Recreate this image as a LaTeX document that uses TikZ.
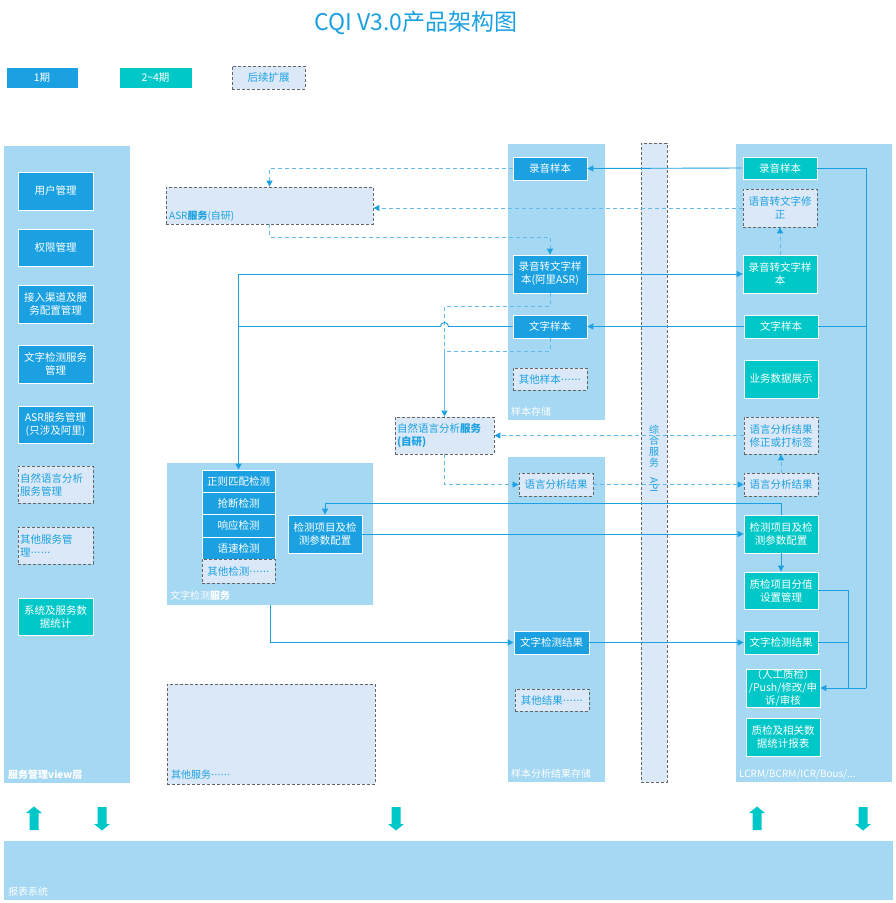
\documentclass[tikz,border=0pt]{standalone}
\usepackage{fontspec}
\usepackage{graphicx}
\setmainfont{Noto Sans CJK SC}
\newfontfamily\dotfont{DejaVu Sans}
\usetikzlibrary{arrows.meta}
\definecolor{cA}{HTML}{1BA1E2}
\definecolor{cB}{HTML}{00C8C8}
\definecolor{cX}{HTML}{DAE8F7}
\definecolor{cL}{HTML}{A5D8F3}
\definecolor{cD}{HTML}{62BBEA}
\definecolor{cG}{HTML}{666666}
\newcommand\Bx[8]{\pgfmathsetmacro\bxw{#5-#3-4}\pgfmathsetmacro\bxh{#6-#4}%
 \node[#2, text width=\bxw pt, align=#7, minimum height=\bxh pt] (#1) at ({(#3+#5)/2},{(#4+#6)/2}) {#8};}
\newcommand\UpAr[1]{\fill[cB] (#1-4.5,830) -- (#1-4.5,813) -- (#1-8,813) -- (#1,806.5) -- (#1+8,813) -- (#1+4.5,813) -- (#1+4.5,830) -- cycle;}
\newcommand\DnAr[1]{\fill[cB] (#1-4.5,807) -- (#1-4.5,824) -- (#1-8,824) -- (#1,830.5) -- (#1+8,824) -- (#1+4.5,824) -- (#1+4.5,807) -- cycle;}
\newcommand\dotsix{{\dotfont ······}}
\tikzset{
  fs/.style={font=\fontsize{10.5}{13}\selectfont},
  base/.style={fs, inner xsep=2pt, inner ysep=0pt},
  p1/.style={base, fill=cA, draw=white, line width=0.8pt, text=white},
  p2/.style={base, fill=cB, draw=white, line width=0.8pt, text=white},
  px/.style={base, fill=cX, draw=cG, line width=0.8pt, dash pattern=on 3pt off 2pt, text=cA},
  cont/.style={base, fill=cL, draw=none},
  lab/.style={text=white, font=\fontsize{10}{12}\selectfont, anchor=base west, inner sep=0pt},
  blab/.style={lab, text=cA},
  line/.style={draw=cA, line width=0.9pt},
  conn/.style={line, -{Triangle[length=6pt,width=6pt]}},
  dline/.style={draw=cD, line width=0.9pt, dash pattern=on 4pt off 3pt},
  dconn/.style={dline, -{Triangle[length=6pt,width=6pt,color=cA]}},
}
\begin{document}
\begin{tikzpicture}[x=1pt,y=-1pt]
\useasboundingbox[fill=white] (0,0) rectangle (895,903);
% title
\node[font=\fontsize{23}{27}\selectfont, text=cA] (title) at (416,23) {CQI V3.0产品架构图};
% legend
\Bx{lg1}{p1}{6}{67}{78}{88}{center}{1期}
\Bx{lg2}{p2}{119}{67}{192}{88}{center}{2\textasciitilde4期}
\Bx{lg3}{px}{232}{66}{305}{89}{center}{后续扩展}
% containers
\Bx{left}{cont}{4}{146}{130}{783}{center}{}
\node[lab, font=\bfseries\fontsize{10}{12}\selectfont] (leftL) at (8,778) {服务管理view层};
\Bx{sst}{cont}{508}{144}{605}{420}{center}{}
\node[lab] (sstL) at (511,415) {样本存储};
\Bx{srs}{cont}{508}{457}{605}{782}{center}{}
\node[lab] (srsL) at (511,777) {样本分析结果存储};
\Bx{rc}{cont}{736}{144}{892}{782}{center}{}
\node[lab] (rcL) at (739,777) {LCRM/BCRM/ICR/Bous/...};
\Bx{tsvc}{cont}{167}{463}{373}{605}{center}{}
\node[lab] (tsvcL) at (170,599) {文字检测\textbf{服务}};
\Bx{rep}{cont}{4}{841}{893}{900}{center}{}
\node[lab] (repL) at (8,895) {报表系统};
\Bx{api}{px}{641}{143}{667}{782}{center}{}
\node[text=cA, font=\fontsize{10}{11}\selectfont, align=center, inner sep=0pt] (apiT) at (654,459) {综\\合\\服\\务\\\rotatebox{-90}{API}};
\Bx{asr}{px}{166}{187}{373}{224}{left}{}
\node[blab] (asrL) at (169,219) {ASR\textbf{服务}(自研)};
\Bx{oth}{px}{167}{684}{375}{784}{center}{}
\node[blab] (othL) at (171,778) {其他服务\dotsix};
% left boxes
\Bx{m1}{p1}{18}{172}{93}{210}{center}{用户管理}
\Bx{m2}{p1}{18}{229}{93}{266}{center}{权限管理}
\Bx{m3}{p1}{18}{285}{93}{323}{center}{接入渠道及服\\务配置管理}
\Bx{m4}{p1}{18}{345}{93}{383}{center}{文字检测服务\\管理}
\Bx{m5}{p1}{18}{406}{93}{443}{center}{ASR服务管理\\(只涉及阿里)}
\Bx{m6}{px}{18}{466}{93}{503}{left}{自然语言分析\\服务管理}
\Bx{m7}{px}{18}{527}{93}{564}{left}{其他服务管\\理\dotsix}
\Bx{m8}{p2}{18}{598}{93}{635}{center}{系统及服务数\\据统计}
% sample storage
\Bx{sRec}{p1}{513}{157}{587}{180}{center}{录音样本}
\Bx{sASR}{p1}{513}{255}{587}{293}{center}{录音转文字样\\本(阿里ASR)}
\Bx{sTxt}{p1}{513}{315}{587}{338}{center}{文字样本}
\Bx{sOth}{px}{513}{368}{587}{390}{center}{其他样本\dotsix}
% sample results
\Bx{sNLP}{px}{519}{473}{593}{496}{center}{语言分析结果}
\Bx{sRes}{p1}{514}{631}{589}{654}{center}{文字检测结果}
\Bx{sOthR}{px}{515}{689}{589}{711}{center}{其他结果\dotsix}
% right boxes
\Bx{rRec}{p2}{743}{157}{817}{179}{center}{录音样本}
\Bx{rCorr}{px}{743}{189}{817}{227}{center}{语音转文字修\\正}
\Bx{rASR}{p2}{743}{255}{817}{293}{center}{录音转文字样\\本}
\Bx{rTxt}{p2}{744}{315}{818}{338}{center}{文字样本}
\Bx{rBiz}{p2}{744}{360}{818}{398}{center}{业务数据展示}
\Bx{rNLPc}{px}{744}{417}{818}{454}{center}{语言分析结果\\修正或打标签}
\Bx{rNLP}{px}{744}{473}{818}{496}{center}{语言分析结果}
\Bx{rCfg}{p2}{744}{515}{818}{553}{center}{检测项目及检\\测参数配置}
\Bx{rScore}{p2}{744}{572}{818}{609}{center}{质检项目分值\\设置管理}
\Bx{rRes}{p2}{744}{631}{818}{654}{center}{文字检测结果}
\Bx{rMan}{p2}{746}{669}{820}{707}{center}{（人工质检）\\/Push/修改/申\\诉/审核}
\Bx{rRep}{p2}{746}{718}{820}{756}{center}{质检及相关数\\据统计报表}
% text detection service
\Bx{det1}{p1}{202}{470}{275}{492}{center}{正则匹配检测}
\Bx{det2}{p1}{202}{492}{275}{514}{center}{抢断检测}
\Bx{det3}{p1}{202}{514}{275}{537}{center}{响应检测}
\Bx{det4}{p1}{202}{537}{275}{559}{center}{语速检测}
\Bx{det5}{px}{202}{559}{275}{583}{center}{其他检测\dotsix}
\Bx{lCfg}{p1}{288}{515}{362}{553}{center}{检测项目及检\\测参数配置}
\Bx{nlp}{px}{395}{417}{494}{454}{left}{自然语言分析\textbf{服务}\\\textbf{(自研)}}
% connectors
\coordinate (bendR) at (866,688);
\coordinate (bendR2) at (848,688);
\draw[conn] (rRec.west) -- (sRec.east);
\draw[line] (rRec.east) -| (bendR);
\draw[conn] (bendR) -- (rMan.east);
\draw[line] (rTxt.east) -- (rTxt.east -| bendR);
\draw[line] (rScore.east) -| (bendR2);
\draw[line] (rRes.east) -- (rRes.east -| bendR2);
\draw[conn] (sASR.east) -- (rASR.west);
\draw[dconn] (rASR.north) -- (rCorr.south);
\draw[dconn] (rCorr.west) -- (rCorr.west -| asr.east);
\draw[dconn] (sRec.west) -| (asr.north);
\draw[dconn] (asr.south) -- ++(0,13) -| (sASR.north);
\draw[conn] (sASR.west) -| (det1.north);
\draw[dconn] (sASR.south) -- ++(0,13) -| (nlp.north);
\draw[dline] (sTxt.south) -- ++(0,13) -| (nlp.north);
\coordinate (hopR) at ([xshift=4pt]nlp.north);
\draw[line] (sTxt.west) -- (sTxt.west -| hopR) arc[start angle=0, end angle=-180, radius=4] -- (sTxt.west -| det1.north);
\draw[conn] (rTxt.west) -- (sTxt.east);
\draw[dconn] (rNLPc.west) -- (rNLPc.west -| nlp.east);
\draw[dconn] (nlp.south) |- (sNLP.west);
\draw[dconn] (sNLP.east) -- (rNLP.west);
\draw[dconn] (rNLP.north) -- (rNLPc.south);
\draw[conn] (rCfg.north) -- ++(0,-11) -| (lCfg.north);
\draw[conn] (lCfg.east) -- (lCfg.east -| rCfg.west);
\draw[conn] (rCfg.south) -- (rScore.north);
\draw[conn] (tsvc.south) |- (sRes.west);
\draw[conn] (sRes.east) -- (rRes.west);
% block arrows
\UpAr{34}
\DnAr{102}
\DnAr{396}
\UpAr{757}
\DnAr{863}
\end{tikzpicture}
\end{document}
